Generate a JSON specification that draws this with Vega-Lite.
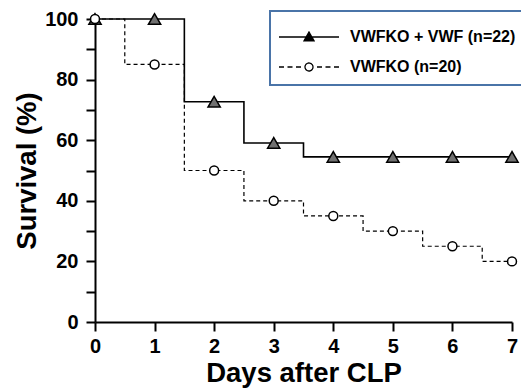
{
  "$schema": "https://vega.github.io/schema/vega-lite/v6.json",
  "width": 417,
  "height": 303,
  "autosize": {"type": "none"},
  "padding": {"left": 95, "top": 19, "right": 9, "bottom": 67},
  "background": "white",
  "config": {
    "view": {"stroke": null},
    "font": "Liberation Sans",
    "legend": {"strokeWidth": 2},
    "axis": {
      "grid": false,
      "domainColor": "black",
      "domainWidth": 2,
      "tickColor": "black",
      "tickWidth": 2,
      "labelFont": "Liberation Sans",
      "labelFontWeight": "bold",
      "labelFontSize": 20,
      "labelColor": "black",
      "titleFont": "Liberation Sans",
      "titleFontWeight": "bold",
      "titleFontSize": 27.5,
      "titleColor": "black"
    }
  },
  "datasets": {
    "steps": [
      {"group": "VWFKO + VWF (n=22)", "day": 0, "survival": 100},
      {"group": "VWFKO + VWF (n=22)", "day": 1.5, "survival": 72.7},
      {"group": "VWFKO + VWF (n=22)", "day": 2.5, "survival": 59.1},
      {"group": "VWFKO + VWF (n=22)", "day": 3.5, "survival": 54.5},
      {"group": "VWFKO + VWF (n=22)", "day": 7, "survival": 54.5},
      {"group": "VWFKO (n=20)", "day": 0, "survival": 100},
      {"group": "VWFKO (n=20)", "day": 0.5, "survival": 85},
      {"group": "VWFKO (n=20)", "day": 1.5, "survival": 50},
      {"group": "VWFKO (n=20)", "day": 2.5, "survival": 40},
      {"group": "VWFKO (n=20)", "day": 3.5, "survival": 35},
      {"group": "VWFKO (n=20)", "day": 4.5, "survival": 30},
      {"group": "VWFKO (n=20)", "day": 5.5, "survival": 25},
      {"group": "VWFKO (n=20)", "day": 6.5, "survival": 20},
      {"group": "VWFKO (n=20)", "day": 7, "survival": 20}
    ],
    "markers": [
      {"group": "VWFKO + VWF (n=22)", "day": 0, "survival": 100},
      {"group": "VWFKO + VWF (n=22)", "day": 1, "survival": 100},
      {"group": "VWFKO + VWF (n=22)", "day": 2, "survival": 72.7},
      {"group": "VWFKO + VWF (n=22)", "day": 3, "survival": 59.1},
      {"group": "VWFKO + VWF (n=22)", "day": 4, "survival": 54.5},
      {"group": "VWFKO + VWF (n=22)", "day": 5, "survival": 54.5},
      {"group": "VWFKO + VWF (n=22)", "day": 6, "survival": 54.5},
      {"group": "VWFKO + VWF (n=22)", "day": 7, "survival": 54.5},
      {"group": "VWFKO (n=20)", "day": 0, "survival": 100},
      {"group": "VWFKO (n=20)", "day": 1, "survival": 85},
      {"group": "VWFKO (n=20)", "day": 2, "survival": 50},
      {"group": "VWFKO (n=20)", "day": 3, "survival": 40},
      {"group": "VWFKO (n=20)", "day": 4, "survival": 35},
      {"group": "VWFKO (n=20)", "day": 5, "survival": 30},
      {"group": "VWFKO (n=20)", "day": 6, "survival": 25},
      {"group": "VWFKO (n=20)", "day": 7, "survival": 20}
    ],
    "notes": [
      {"label": "p=0.02"}
    ]
  },
  "encoding": {
    "x": {
      "field": "day",
      "type": "quantitative",
      "scale": {"domain": [0, 7], "nice": false, "zero": false},
      "axis": {
        "title": "Days after CLP",
        "values": [0, 1, 2, 3, 4, 5, 6, 7],
        "tickSize": 9,
        "labelPadding": 5,
        "titlePadding": 3,
        "labelFlush": false
      }
    },
    "y": {
      "field": "survival",
      "type": "quantitative",
      "scale": {"domain": [0, 100], "nice": false},
      "axis": {
        "title": "Survival (%)",
        "values": [0, 10, 20, 30, 40, 50, 60, 70, 80, 90, 100],
        "labelExpr": "datum.value % 20 === 0 ? datum.label : ''",
        "tickSize": 9,
        "labelPadding": 8,
        "titlePadding": 3,
        "labelFlush": false
      }
    }
  },
  "layer": [
    {
      "data": {"name": "steps"},
      "transform": [{"filter": "datum.group === 'VWFKO + VWF (n=22)'"}],
      "mark": {"type": "line", "interpolate": "step-after", "strokeWidth": 1.6},
      "encoding": {
        "color": {
          "field": "group",
          "type": "nominal",
          "scale": {"domain": ["VWFKO + VWF (n=22)", "VWFKO (n=20)"], "range": ["black", "black"]},
          "legend": {
            "title": " ",
            "titleFontSize": 6,
            "titlePadding": 2,
            "orient": "none",
            "legendX": 175,
            "legendY": -8,
            "padding": 10,
            "strokeColor": "#4a74a8",
            "fillColor": "white",
            "symbolSize": 100,
            "symbolOffset": 21,
            "symbolType": {"expr": "datum.value === 'VWFKO (n=20)' ? 'M-6,0H-5M-4.3,0H-3.3M-2.6,0H-1.6M1.6,0H2.6M3.3,0H4.3M5,0H6M0.8,0A0.8,0.8,0,1,1,-0.8,0A0.8,0.8,0,1,1,0.8,0Z' : 'M-6,0H6M0,-1L1,0.75L-1,0.75Z'"},
            "symbolFillColor": {"expr": "datum.value === 'VWFKO (n=20)' ? 'white' : 'black'"},
            "symbolStrokeColor": "black",
            "symbolStrokeWidth": 1.3,
            "symbolDash": [1, 0],
            "labelOffset": 33,
            "rowPadding": 14,
            "labelFont": "Liberation Sans",
            "labelFontWeight": "bold",
            "labelFontSize": 16,
            "labelColor": "black",
            "labelLimit": 300
          }
        }
      }
    },
    {
      "data": {"name": "steps"},
      "transform": [{"filter": "datum.group === 'VWFKO (n=20)'"}],
      "mark": {"type": "line", "interpolate": "step-after", "color": "black", "strokeWidth": 1.2, "strokeDash": [4, 3]}
    },
    {
      "data": {"name": "markers"},
      "mark": {"type": "point", "filled": true, "stroke": "black", "strokeWidth": 1.5, "opacity": 1},
      "encoding": {
        "shape": {
          "condition": {"test": "datum.group === 'VWFKO (n=20)'", "value": "circle"},
          "value": "triangle-up"
        },
        "fill": {
          "condition": {"test": "datum.group === 'VWFKO (n=20)'", "value": "white"},
          "value": "#707070"
        },
        "size": {
          "condition": {"test": "datum.group === 'VWFKO (n=20)'", "value": 80},
          "value": 150
        }
      }
    },
    {
      "data": {"name": "notes"},
      "mark": {"type": "text", "align": "right", "baseline": "middle", "dx": 7, "font": "Liberation Sans", "fontWeight": "bold", "fontSize": 19.5, "fill": "black"},
      "encoding": {
        "text": {"field": "label", "type": "nominal"},
        "x": {"datum": 7},
        "y": {"datum": 40}
      }
    }
  ]
}
